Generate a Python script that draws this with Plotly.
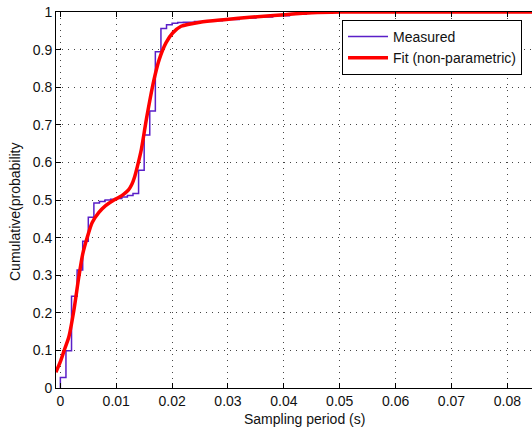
import plotly.graph_objects as go

# Measured empirical CDF (step points)
measured_x = [0.0, 0.0, 0.001, 0.002, 0.003, 0.004, 0.005, 0.006, 0.007, 0.008, 0.009,
              0.010, 0.011, 0.012, 0.013, 0.014, 0.015, 0.016, 0.017, 0.018, 0.019,
              0.020, 0.021, 0.022, 0.024, 0.026, 0.029, 0.032, 0.035, 0.038, 0.041,
              0.044, 0.047, 0.085]
measured_y = [0.0, 0.028, 0.099, 0.244, 0.314, 0.39, 0.454, 0.492, 0.496, 0.500, 0.502,
              0.504, 0.508, 0.512, 0.517, 0.579, 0.673, 0.737, 0.894, 0.956, 0.966,
              0.970, 0.972, 0.973, 0.975, 0.977, 0.980, 0.984, 0.987, 0.990, 0.994,
              0.997, 1.0, 1.0]

# Non-parametric fit curve
fit_x = [-0.0008, 0.0, 0.0008, 0.0015, 0.0024, 0.0033, 0.004, 0.0048, 0.0057, 0.0069,
         0.0081, 0.0096, 0.0105, 0.0113, 0.0122, 0.0128, 0.0133, 0.0138, 0.0145, 0.0154,
         0.0167, 0.0177, 0.0189, 0.0201, 0.0216, 0.025, 0.0297, 0.0339, 0.040, 0.045,
         0.050, 0.085]
fit_y = [0.042, 0.07, 0.105, 0.135, 0.205, 0.295, 0.356, 0.40, 0.44, 0.467,
         0.485, 0.50, 0.507, 0.515, 0.527, 0.542, 0.562, 0.59, 0.635, 0.715,
         0.816, 0.874, 0.918, 0.944, 0.962, 0.973, 0.980, 0.986, 0.993, 0.998,
         1.0, 1.0]

x_ticks = [0, 0.01, 0.02, 0.03, 0.04, 0.05, 0.06, 0.07, 0.08]
x_tick_labels = ["0", "0.01", "0.02", "0.03", "0.04", "0.05", "0.06", "0.07", "0.08"]
y_ticks = [0, 0.1, 0.2, 0.3, 0.4, 0.5, 0.6, 0.7, 0.8, 0.9, 1]
y_tick_labels = ["0", "0.1", "0.2", "0.3", "0.4", "0.5", "0.6", "0.7", "0.8", "0.9", "1"]

W, H = 532, 427
ML, MR, MT, MB = 56, 0, 12, 39
pw = W - ML - MR
ph = H - MT - MB

FONT = "Liberation Sans, Arial, Helvetica, sans-serif"

fig = go.Figure()
fig.add_trace(go.Scatter(
    x=measured_x, y=measured_y, mode="lines", line_shape="hv",
    line=dict(color="#5a1fc8", width=1.5), name="Measured"))
fig.add_trace(go.Scatter(
    x=fit_x, y=fit_y, mode="lines", line_shape="spline",
    line=dict(color="#ff0000", width=3.5, smoothing=0.7),
    name="Fit (non-parametric)"))

axis_common = dict(
    showline=True, linecolor="black", linewidth=1,
    ticks="inside", ticklen=5, tickcolor="black",
    showgrid=True, gridcolor="#444444", gridwidth=1, griddash="1px,5px",
    zeroline=False,
    tickfont=dict(family=FONT, size=14, color="#111111"),
)

fig.update_layout(
    width=W, height=H,
    margin=dict(l=ML, r=MR, t=MT, b=MB),
    paper_bgcolor="white", plot_bgcolor="white",
    showlegend=True,
    legend=dict(
        x=(522 - ML) / pw, y=(H - MB - 20) / ph, xanchor="right", yanchor="top",
        bgcolor="white", bordercolor="black", borderwidth=1,
        font=dict(family=FONT, size=14, color="#111111"),
        tracegroupgap=0, itemwidth=40,
    ),
    xaxis=dict(
        range=[-0.00078, (W - 61) / 5580.0],
        tickvals=x_ticks, ticktext=x_tick_labels, mirror="ticks",
        ticklabelstandoff=0,
        **axis_common),
    yaxis=dict(
        range=[0, 1], tickvals=y_ticks, ticktext=y_tick_labels, mirror=False,
        **axis_common),
    annotations=[
        dict(text="Sampling period (s)", xref="paper", yref="paper",
             x=(304 - ML) / pw, y=-(419 - (H - MB)) / ph,
             showarrow=False, xanchor="center", yanchor="middle",
             font=dict(family=FONT, size=14, color="#111111")),
        dict(text="Cumulative(probability", xref="paper", yref="paper",
             x=(15 - ML) / pw, y=(H - MB - 212) / ph, textangle=-90,
             showarrow=False, xanchor="center", yanchor="middle",
             font=dict(family=FONT, size=14, color="#111111")),
    ],
)

fig.write_html("out.html")
